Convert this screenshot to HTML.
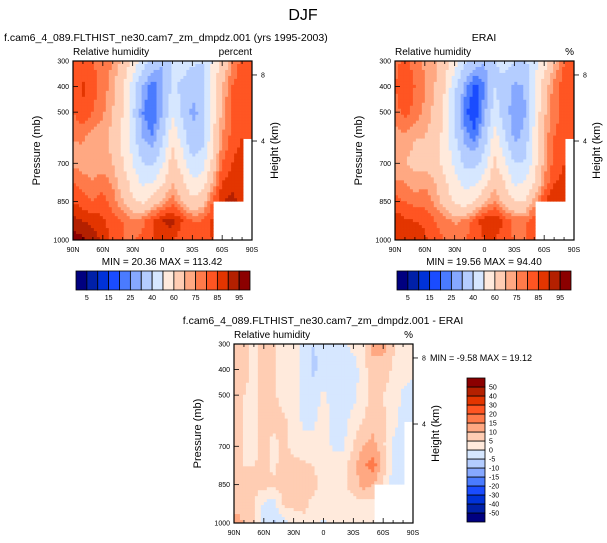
<!DOCTYPE html>
<html><head><meta charset="utf-8"><style>
body{margin:0;background:#fff;width:607px;height:543px;overflow:hidden}
svg{display:block;font-family:"Liberation Sans",sans-serif}
</style></head><body>
<svg id="fig" width="607" height="543" viewBox="0 0 607 543">
<text x="303" y="20" font-size="16" text-anchor="middle">DJF</text>
</svg>
<script>
const lats=["90N","60N","30N","0","30S","60S","90S"];
const levels=[300,400,500,600,700,775,850,925,1000];
const pTicks=[300,400,500,700,850,1000];
const absLevels=[5,10,15,20,25,30,40,50,60,70,75,80,85,90,95];
const absLabels=["5","15","25","40","60","75","85","95"];
const diffLevels=[-50,-40,-30,-20,-15,-10,-5,0,5,10,15,20,30,40,50];
const N=null;
const modelRH=[
[80,82,80,78,75,68,58,45,35,30,40,45,42,40,50,62,75,82,82],
[82,86,82,78,72,62,45,30,22,28,42,38,32,35,55,70,80,84,84],
[80,84,80,76,70,60,42,25,20,30,48,38,28,32,55,72,80,84,84],
[75,76,72,72,68,58,45,30,25,38,58,45,32,36,56,75,82,85,82],
[74,72,70,72,70,60,50,40,38,48,65,55,42,45,62,80,85,88,N],
[80,78,76,78,74,66,56,48,50,58,70,62,52,55,70,85,88,88,N],
[85,82,80,82,78,70,62,58,65,72,78,70,62,66,80,90,92,88,N],
[92,90,88,86,82,80,76,78,85,90,92,85,80,80,86,N,N,N,N],
[98,96,94,88,84,80,80,82,85,88,86,82,80,82,85,N,N,N,N]];
const eraiRH=[
[78,82,78,74,72,65,55,42,35,30,38,45,40,38,45,55,68,80,80],
[80,84,80,75,70,60,42,28,18,25,40,35,28,30,50,65,78,82,82],
[78,82,78,74,68,58,40,22,15,28,45,35,25,28,50,68,78,82,82],
[72,74,70,70,66,56,42,28,22,35,55,42,28,32,52,72,80,82,80],
[70,70,68,68,66,56,48,38,36,45,62,52,40,40,55,72,82,85,N],
[76,75,72,74,70,62,54,46,48,55,68,60,48,50,60,75,85,86,N],
[82,80,78,78,74,66,58,55,60,70,75,68,60,60,72,85,90,86,N],
[88,86,85,84,80,78,74,76,82,88,90,84,78,78,84,N,N,N,N],
[90,88,88,86,82,80,78,80,82,85,85,82,80,80,82,N,N,N,N]];
const diffRH=[
[7,6,4,7,6,3,2,-2,-5,-4,-2,-2,2,4,12,12,6,3,2],
[6,6,4,6,6,3,2,-2,-6,-3,-1,-3,-3,3,8,8,4,2,1],
[6,5,4,6,6,3,3,-2,-3,1,-2,-3,-2,3,6,5,3,-1,-2],
[6,5,4,6,6,6,3,-1,-1,3,-2,-2,2,5,8,6,2,-2,-2],
[6,5,4,6,4,6,4,2,2,3,-1,-1,5,10,12,6,-1,-2,N],
[6,5,5,6,4,7,6,6,5,3,3,4,8,14,18,8,-2,-2,N],
[6,5,6,7,6,7,6,6,6,4,4,4,7,12,10,4,-2,-2,N],
[7,6,6,-1,-2,6,6,6,4,3,4,4,3,3,3,N,N,N,N],
[14,10,6,-2,-6,-2,3,4,3,-1,1,3,3,3,3,N,N,N,N]];
const colors=["#000080","#0020a8","#0032d8","#1a4cff","#4a7bff","#86a8ff","#b4cdff","#d6e7ff","#ffeadc","#ffcdb3","#ffa882","#ff7a4a","#ff5522","#e33500","#b42000","#8b0000"];

const svg=document.getElementById('fig');
const NS="http://www.w3.org/2000/svg";
function mk(tag,attrs,parent){const e=document.createElementNS(NS,tag);for(const k in attrs)e.setAttribute(k,attrs[k]);(parent||svg).appendChild(e);return e;}
function txt(x,y,s,size,anchor,parent,rot){const t=mk('text',{x:x,y:y,'font-size':size,'text-anchor':anchor||'start'},parent);if(rot)t.setAttribute('transform',`rotate(-90 ${x} ${y})`);t.textContent=s;return t;}
function colorFor(v,lv){let i=0;while(i<lv.length&&v>=lv[i])i++;return colors[i];}
function sample(data,fx,p){
  const gx=fx*18;const i0=Math.min(17,Math.floor(gx));const tx=gx-i0;
  let j0=0;while(j0<levels.length-2&&p>levels[j0+1])j0++;
  const ty=(p-levels[j0])/(levels[j0+1]-levels[j0]);
  const a=data[j0][i0],b=data[j0][i0+1],c=data[j0+1][i0],d=data[j0+1][i0+1];
  if(a===null||b===null||c===null||d===null)return null;
  return (a*(1-tx)+b*tx)*(1-ty)+(c*(1-tx)+d*tx)*ty;
}
function panel(name,data,lv,x0,y0,w,h,title,unit,titleX,titleAnchor){
  const g=mk('g',{},svg);
  
  
  const n=60,cw=w/n,ch=h/n;
  const field=mk('g',{},g);
  
  
  for(let i=0;i<n;i++)for(let j=0;j<n;j++){
    const v=sample(data,(i+0.5)/n,300+700*(j+0.5)/n);
    if(v===null)continue;
    const r=mk('rect',{x:(x0+i*cw).toFixed(2),y:(y0+j*ch).toFixed(2),width:(cw+0.4).toFixed(2),height:(ch+0.4).toFixed(2),fill:colorFor(v,lv)},field);
    
    
  }
  mk('rect',{x:x0,y:y0,width:w,height:h,fill:'none',stroke:'#000','stroke-width':1.2},g);
  const ax=mk('g',{},g);
  
  
  for(let k=0;k<=18;k++){
    const x=x0+w*k/18,L=(k%3===0)?5:3;
    mk('line',{x1:x,x2:x,y1:y0+h,y2:y0+h-L,stroke:'#000','stroke-width':0.8},ax);
    mk('line',{x1:x,x2:x,y1:y0,y2:y0+L,stroke:'#000','stroke-width':0.8},ax);
  }
  lats.forEach((s,k)=>{const t=txt(x0+w*k/6,y0+h+12,s,7,'middle',ax);});
  const ay=mk('g',{},g);
  
  
  pTicks.forEach(p=>{const y=y0+h*(p-300)/700;
    mk('line',{x1:x0,x2:x0+5,y1:y,y2:y,stroke:'#000','stroke-width':0.8},ay);
    const t=txt(x0-4,y+2.5,String(p),7,'end',ay);});
  [[8,0.078],[4,0.447]].forEach(([km,f])=>{const y=y0+h*f;
    mk('line',{x1:x0+w,x2:x0+w+5,y1:y,y2:y,stroke:'#000','stroke-width':0.8},ay);
    txt(x0+w+9,y+2.5,String(km),7,'start',ay);});
  const yt=txt(x0-33,y0+h/2,'Pressure (mb)',11,'middle',g,true);
  
  const yt2=txt(x0+w+26,y0+h/2,'Height (km)',11,'middle',g,true);
  
  const vt=txt(x0,y0-6,'Relative humidity',10,'start',g);
  
  const ut=txt(x0+w,y0-6,unit,10,'end',g);
  
  const tt=txt(titleX,y0-20,title,10.5,titleAnchor||'middle',g);
  
}
panel('model-panel',modelRH,absLevels,73,61,179,179,'f.cam6_4_089.FLTHIST_ne30.cam7_zm_dmpdz.001 (yrs 1995-2003)','percent',4,'start');
panel('erai-panel',eraiRH,absLevels,395,61,179,179,'ERAI','%',484);
panel('diff-panel',diffRH,diffLevels,234,344,179,179,'f.cam6_4_089.FLTHIST_ne30.cam7_zm_dmpdz.001 - ERAI','%',323);
txt(162,265,'MIN =  20.36  MAX = 113.42',10,'middle');
txt(484,265,'MIN =  19.56  MAX = 94.40',10,'middle');
txt(430,361,'MIN =  -9.58  MAX =  19.12',9,'start');
function hbar(name,x0,y0,w,h){
  const g=mk('g',{},svg);
  
  
  const bw=w/16;
  colors.forEach((c,i)=>{mk('rect',{x:x0+i*bw,y:y0,width:bw,height:h,fill:c,stroke:'#000','stroke-width':0.8},g);});
  absLabels.forEach((s,k)=>{txt(x0+bw*(2*k+1),y0+h+10,s,7,'middle',g);});
}
hbar('model-colorbar',76,271,174,19);
hbar('erai-colorbar',397,271,174,19);
(function(){
  const g=mk('g',{},svg);
  
  
  const x0=467,y0=378,w=18,h=144,bh=h/16;
  colors.forEach((c,i)=>{mk('rect',{x:x0,y:y0+h-(i+1)*bh,width:w,height:bh,fill:c,stroke:'#000','stroke-width':0.8},g);});
  diffLevels.forEach((v,k)=>{txt(x0+w+4,y0+h-(k+1)*bh+2.5,String(v),7,'start',g);});
})();
</script>
</body></html>
